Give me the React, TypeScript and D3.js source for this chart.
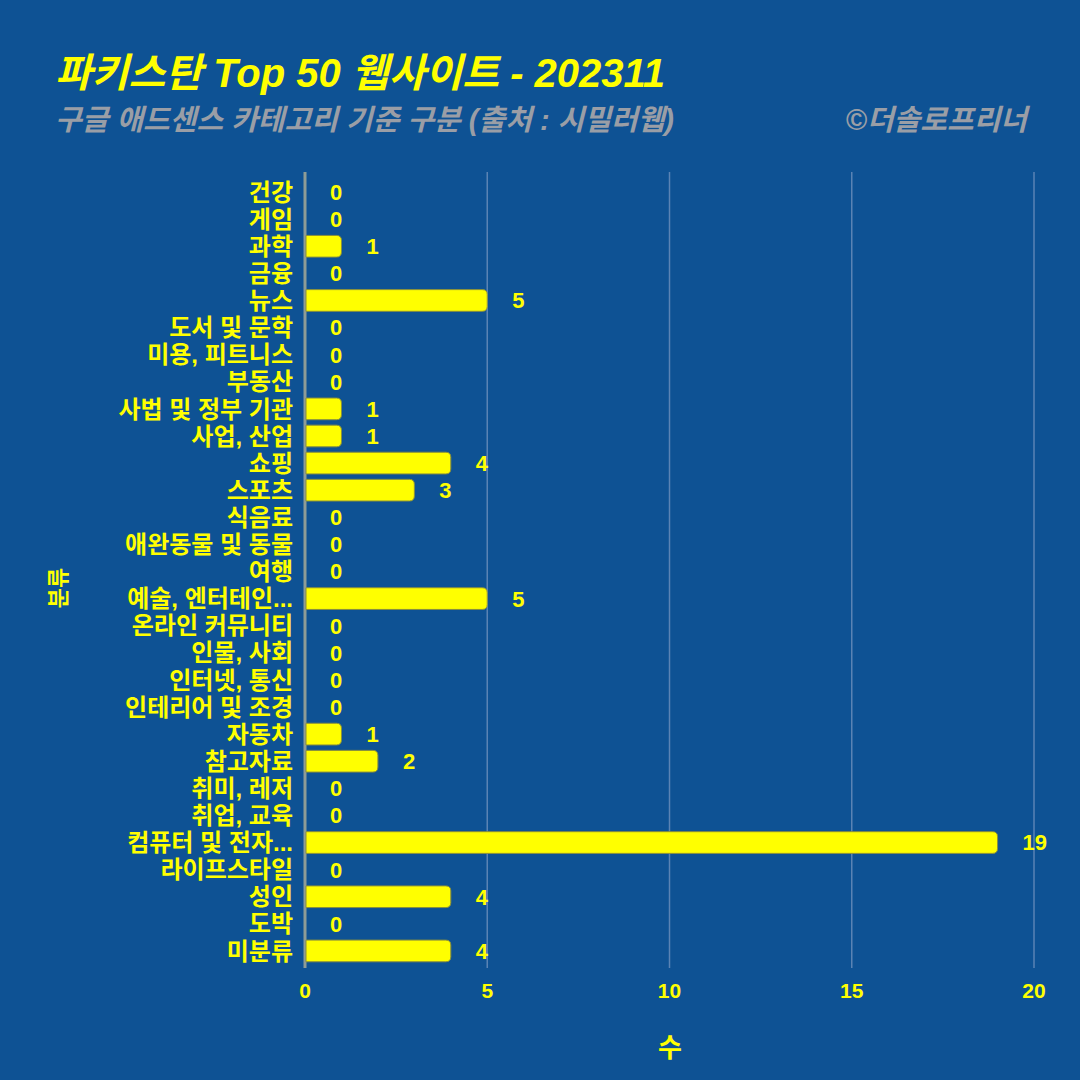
import React from "react";
import * as d3 from "d3";

const categories = [
  "건강", "게임", "과학", "금융", "뉴스", "도서 및 문학", "미용, 피트니스", "부동산",
  "사법 및 정부 기관", "사업, 산업", "쇼핑", "스포츠", "식음료", "애완동물 및 동물", "여행",
  "예술, 엔터테인...", "온라인 커뮤니티", "인물, 사회", "인터넷, 통신", "인테리어 및 조경",
  "자동차", "참고자료", "취미, 레저", "취업, 교육", "컴퓨터 및 전자...", "라이프스타일",
  "성인", "도박", "미분류",
];
const values = [0, 0, 1, 0, 5, 0, 0, 0, 1, 1, 4, 3, 0, 0, 0, 5, 0, 0, 0, 0, 1, 2, 0, 0, 19, 0, 4, 0, 4];
const xTicks = [0, 5, 10, 15, 20];

const title = "파키스탄 Top 50 웹사이트 - 202311";
const subtitle = "구글 애드센스 카테고리 기준 구분 (출처 : 시밀러웹)";
const credit = "©더솔로프리너";
const xTitle = "수";
const yTitle = "분류";

const W = 1080;
const H = 1080;
const BG = "#0e5294";
const YEL = "#ffff00";
const FONT = "'Liberation Sans', Arial, 'Noto Sans CJK KR', sans-serif";

export default function App() {
  const x = d3.scaleLinear().domain([0, 20]).range([305, 1034]);
  const y = d3
    .scaleBand<string>()
    .domain(categories)
    .range([178.5, 964.5])
    .paddingInner(0.2)
    .paddingOuter(0.1);
  const bh = y.bandwidth();

  const barPath = (v: number, top: number) => {
    const x0 = x(0) + 1;
    const x1 = x(v);
    const r = Math.min(5, (x1 - x0) / 2);
    const b = top + bh;
    return `M${x0},${top} H${x1 - r} Q${x1},${top} ${x1},${top + r} V${b - r} Q${x1},${b} ${x1 - r},${b} H${x0} Z`;
  };

  return (
    <svg width={W} height={H} style={{ display: "block", position: "absolute", left: 0, top: 0 }}>
      <rect x={0} y={0} width={W} height={H} fill={BG} />
      <text x={55} y={87} fill={YEL} fontFamily={FONT} fontWeight="bold" fontStyle="italic" fontSize={40}>
        {title}
      </text>
      <text x={55} y={130} fill="#9a9ea6" fontFamily={FONT} fontWeight="bold" fontStyle="italic" fontSize={29}>
        {subtitle}
      </text>
      <text x={1027} y={130} textAnchor="end" fill="#9a9ea6" fontFamily={FONT} fontWeight="bold" fontStyle="italic" fontSize={29}>
        {credit}
      </text>

      {xTicks.map((t) => (
        <g key={t}>
          {t > 0 && (
            <line x1={x(t)} x2={x(t)} y1={172} y2={968} stroke="#5a83b4" strokeWidth={1.5} />
          )}
          <text x={x(t)} y={998} textAnchor="middle" fill={YEL} fontFamily={FONT} fontWeight="bold" fontSize={21}>
            {t}
          </text>
        </g>
      ))}
      <line x1={x(0)} x2={x(0)} y1={172} y2={968} stroke="#8e9c96" strokeWidth={3} />

      {categories.map((c, i) => {
        const v = values[i];
        const top = y(c)!;
        const cy = top + bh / 2;
        return (
          <g key={c}>
            {v > 0 && <path d={barPath(v, top)} fill={YEL} stroke="#8a8f3c" strokeWidth={1} />}
            <text x={293} y={cy} dy="0.36em" textAnchor="end" fill={YEL} fontFamily={FONT} fontWeight="bold" fontSize={24}>
              {c}
            </text>
            <text x={x(v) + 25} y={cy} dy="0.36em" textAnchor="start" fill={YEL} fontFamily={FONT} fontWeight="bold" fontSize={22}>
              {v}
            </text>
          </g>
        );
      })}

      <text x={670} y={1057} textAnchor="middle" fill={YEL} fontFamily={FONT} fontWeight="bold" fontSize={26}>
        {xTitle}
      </text>
      <text
        transform={`translate(58,588) rotate(-90)`}
        textAnchor="middle"
        dy="0.35em"
        fill={YEL}
        fontFamily={FONT}
        fontWeight="bold"
        fontSize={22}
      >
        {yTitle}
      </text>
    </svg>
  );
}
